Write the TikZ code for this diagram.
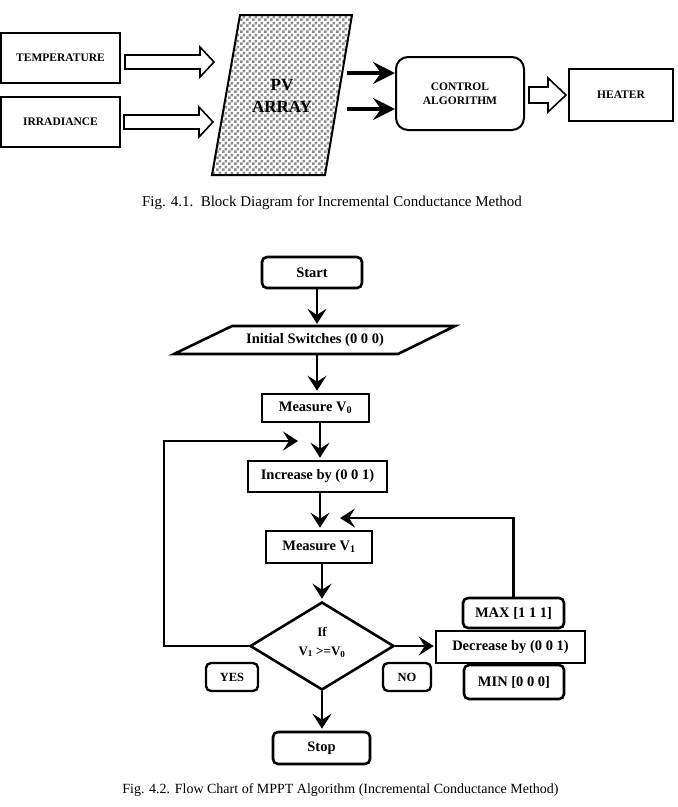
\documentclass[tikz,border=0pt]{standalone}
\usepackage{fontspec}
\setmainfont{Liberation Serif}
\usetikzlibrary{arrows.meta,shapes.geometric,patterns.meta,calc}
\tikzdeclarepattern{
  name=pvcheck,
  type=uncolored,
  bounding box={(0pt,0pt) and (6pt,6pt)},
  tile size={(6pt,6pt)},
  code={
    \fill (0pt,0pt) rectangle (3pt,3pt);
    \fill (3pt,3pt) rectangle (6pt,6pt);
  }
}
\newcommand\hollowarrow[6]{%
  \draw[line width=1.6pt, fill=white, line join=miter]
    (#1,#3-#4) -- (#2-#6,#3-#4) -- (#2-#6,#3-#5) -- (#2,#3)
    -- (#2-#6,#3+#5) -- (#2-#6,#3+#4) -- (#1,#3+#4) -- cycle;}
\begin{document}
\begin{tikzpicture}[x=1pt,y=-1pt,
  tbox/.style={draw, line width=2pt, inner sep=0pt, align=center,
    font=\fontsize{11.5}{13.5}\selectfont\bfseries},
  fbox/.style={draw, line width=2.6pt, inner sep=0pt, align=center,
    font=\fontsize{14.5}{16}\selectfont\bfseries},
  rbox/.style={fbox, rounded corners=5pt},
  lbl/.style={draw, line width=2.4pt, rounded corners=5pt, inner sep=0pt,
    font=\fontsize{12.5}{14}\selectfont\bfseries},
  arr/.style={line width=2.8pt, shorten >=2pt,
    -{Stealth[length=15pt,width=19pt,inset=6pt]}},
  barr/.style={line width=4.5pt,
    -{Stealth[length=22pt,width=22pt,inset=8pt]}},
  figcap/.style={font=\fontsize{15}{17}\selectfont}
]
\useasboundingbox (0,0) rectangle (678,807);

% ---------- Fig 4.1 ----------
\node[tbox, minimum width=119pt, minimum height=50pt] (temp) at (60.5,58) {TEMPERATURE};
\node[tbox, minimum width=119pt, minimum height=50pt] (irr) at (60.5,122) {IRRADIANCE};

\hollowarrow{125}{214}{62}{7}{15}{14}
\hollowarrow{124}{213}{122}{7}{15}{14}

\draw[line width=2pt, pattern=pvcheck, pattern color=black!45]
  (240,15) -- (352,15) -- (325,175) -- (212,175) -- cycle;
\node[align=center, font=\fontsize{17}{22}\selectfont\bfseries] (pv) at (282,96) {PV\\ARRAY};

\node[tbox, rounded corners=12pt, minimum width=128pt, minimum height=73pt] (ctrl) at (460,93.5) {CONTROL\\ALGORITHM};
\node[tbox, minimum width=104pt, minimum height=52pt] (heat) at (621,95) {HEATER};

\coordinate (p1) at (347,73);
\coordinate (p2) at (347,109);
\draw[barr] (p1) -- (p1 -| ctrl.west);
\draw[barr] (p2) -- (p2 -| ctrl.west);

\hollowarrow{529}{566}{95}{8}{17}{18}

\node[figcap] (cap1) at (332,203) {Fig. 4.1.\ \ Block Diagram for Incremental Conductance Method};

% ---------- Fig 4.2 ----------
\coordinate (ax1) at (317,0);
\coordinate (ax2) at (320,0);
\coordinate (ax3) at (322,0);

\node[rbox, minimum width=100pt, minimum height=31pt] (start) at (312,272.5) {Start};

\draw[line width=2.6pt, line join=miter] (232,326) -- (455,326) -- (398,354) -- (174,354) -- cycle;
\node[inner sep=0pt, minimum height=28pt, font=\fontsize{14.5}{16}\selectfont\bfseries] (init) at (315,340) {Initial Switches (0 0 0)};

\node[fbox, minimum width=107pt, minimum height=28pt] (mv0) at (315.5,408) {Measure V\textsubscript{0}};
\node[fbox, minimum width=139pt, minimum height=31pt] (inc) at (317.5,476.5) {Increase by (0 0 1)};
\node[fbox, minimum width=106pt, minimum height=32pt] (mv1) at (319,547) {Measure V\textsubscript{1}};

\node[draw, diamond, line width=2.6pt, minimum width=144pt, minimum height=88pt, inner sep=0pt] (dia) at (322,646) {};
\node[align=center, font=\fontsize{13}{19}\selectfont\bfseries] (diat) at (322,642) {If\\V\textsubscript{1} >=V\textsubscript{0}};

\node[fbox, minimum width=149pt, minimum height=32pt] (dec) at (510.5,647) {Decrease by (0 0 1)};
\node[rbox, minimum width=101pt, minimum height=30pt] (max) at (513.5,613) {MAX [1 1 1]};
\node[rbox, minimum width=100pt, minimum height=34pt] (min) at (514,682) {MIN [0 0 0]};

\node[lbl, minimum width=52pt, minimum height=28pt] (yes) at (232,677) {YES};
\node[lbl, minimum width=48pt, minimum height=28pt] (no) at (407,677) {NO};

\node[rbox, minimum width=97pt, minimum height=32pt] (stop) at (321.5,748) {Stop};

\draw[arr] (start.south -| ax1) -- (init.north -| ax1);
\draw[arr] (init.south -| ax1) -- (mv0.north -| ax1);
\draw[arr] (mv0.south -| ax2) -- (inc.north -| ax2);
\draw[arr] (inc.south -| ax2) -- (mv1.north -| ax2);
\draw[arr] (mv1.south -| ax3) -- (dia.north);
\draw[arr] (dia.south) -- (stop.north -| dia.south);
\draw[arr, shorten >=1pt] (dia.east) -- (dec.west |- dia.east);

\coordinate (L) at (164,441);
\coordinate (j1) at (300,441);
\draw[arr, line join=miter] (dia.west) -| (L) -- (j1);

\coordinate (j2) at (338,518);
\draw[arr, line join=miter] (max.north) |- (j2);

\node[font=\fontsize{14}{16}\selectfont] (cap2) at (340.5,790) {Fig. 4.2. Flow Chart of MPPT Algorithm (Incremental Conductance Method)};
\end{tikzpicture}
\end{document}
